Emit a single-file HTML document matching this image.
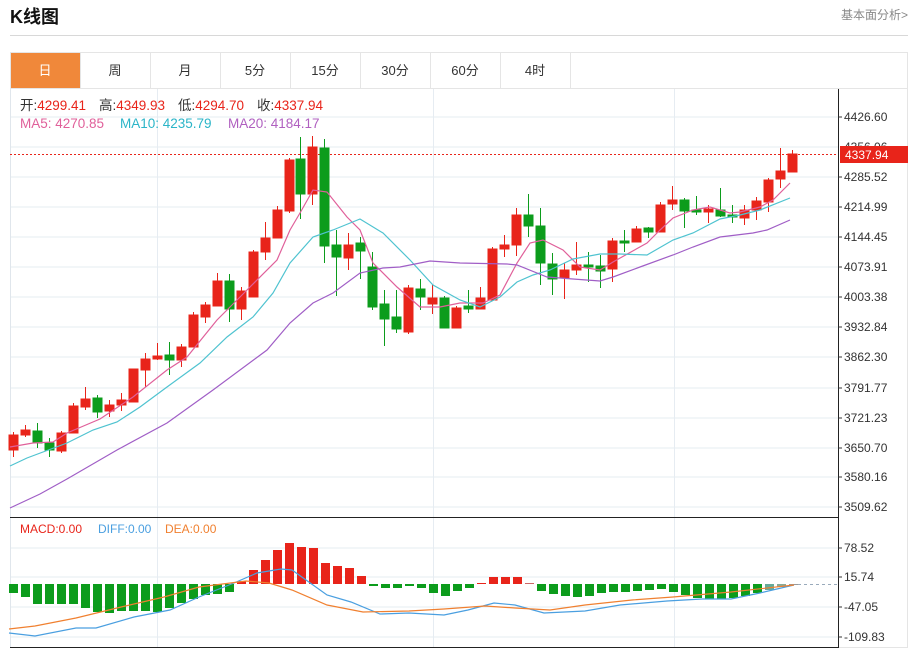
<!DOCTYPE html>
<html><head><meta charset="utf-8"><style>
body{margin:0;background:#fff;width:914px;height:650px;overflow:hidden;font-family:"Liberation Sans","Noto Sans CJK SC",sans-serif;}
</style></head><body>
<svg width="914" height="650" xmlns="http://www.w3.org/2000/svg" style="position:absolute;left:0;top:0;font-family:'Liberation Sans','Noto Sans CJK SC',sans-serif">
<text x="10" y="23" font-size="18" font-weight="bold" fill="#111">K线图</text>
<text x="908" y="19" font-size="12" fill="#888" text-anchor="end">基本面分析&gt;</text>
<line x1="10" y1="35.5" x2="908" y2="35.5" stroke="#d8d8d8"/>
<rect x="10.5" y="52.5" width="897" height="595" fill="none" stroke="#e5e5e5"/>
<line x1="10" y1="88.5" x2="908" y2="88.5" stroke="#e5e5e5"/>
<rect x="11" y="53" width="69" height="35" fill="#f0883a"/>
<g stroke="#e5e5e5"><line x1="150.5" y1="52" x2="150.5" y2="88"/><line x1="220.5" y1="52" x2="220.5" y2="88"/><line x1="290.5" y1="52" x2="290.5" y2="88"/><line x1="360.5" y1="52" x2="360.5" y2="88"/><line x1="430.5" y1="52" x2="430.5" y2="88"/><line x1="500.5" y1="52" x2="500.5" y2="88"/><line x1="570.5" y1="52" x2="570.5" y2="88"/><line x1="80.5" y1="52" x2="80.5" y2="88"/></g>
<g font-size="13" text-anchor="middle" fill="#333"><text x="45" y="75" fill="#fff">日</text><text x="115" y="75">周</text><text x="185" y="75">月</text><text x="255" y="75">5分</text><text x="325" y="75">15分</text><text x="395" y="75">30分</text><text x="465" y="75">60分</text><text x="535" y="75">4时</text></g>
<g stroke="#e6ecf2"><line x1="10" y1="117" x2="838" y2="117"/><line x1="10" y1="147" x2="838" y2="147"/><line x1="10" y1="177" x2="838" y2="177"/><line x1="10" y1="207" x2="838" y2="207"/><line x1="10" y1="237" x2="838" y2="237"/><line x1="10" y1="267" x2="838" y2="267"/><line x1="10" y1="297" x2="838" y2="297"/><line x1="10" y1="327" x2="838" y2="327"/><line x1="10" y1="357" x2="838" y2="357"/><line x1="10" y1="388" x2="838" y2="388"/><line x1="10" y1="418" x2="838" y2="418"/><line x1="10" y1="448" x2="838" y2="448"/><line x1="10" y1="477" x2="838" y2="477"/><line x1="10" y1="507" x2="838" y2="507"/>
<line x1="157.5" y1="89" x2="157.5" y2="647"/><line x1="433.5" y1="89" x2="433.5" y2="647"/><line x1="674.5" y1="89" x2="674.5" y2="647"/>
<line x1="10" y1="548" x2="838" y2="548"/><line x1="10" y1="577" x2="838" y2="577"/><line x1="10" y1="607" x2="838" y2="607"/><line x1="10" y1="637" x2="838" y2="637"/></g>
<line x1="10.5" y1="89" x2="10.5" y2="647" stroke="#e0e6ec"/>
<line x1="10" y1="517.5" x2="838" y2="517.5" stroke="#222"/>
<line x1="10" y1="647.5" x2="838" y2="647.5" stroke="#222"/>
<line x1="838.5" y1="89" x2="838.5" y2="648" stroke="#222"/>
<g font-size="13.5">
<text x="20" y="110" fill="#333">开:<tspan fill="#e8241a">4299.41</tspan></text>
<text x="99" y="110" fill="#333">高:<tspan fill="#e8241a">4349.93</tspan></text>
<text x="178" y="110" fill="#333">低:<tspan fill="#e8241a">4294.70</tspan></text>
<text x="257" y="110" fill="#333">收:<tspan fill="#e8241a">4337.94</tspan></text>
<text x="20" y="128" fill="#e0609a">MA5: 4270.85</text>
<text x="120" y="128" fill="#2bb5c8">MA10: 4235.79</text>
<text x="228" y="128" fill="#b060c0">MA20: 4184.17</text>
</g>
<g font-size="12" fill="#333"><text x="844" y="121">4426.60</text><text x="844" y="151">4356.06</text><text x="844" y="181">4285.52</text><text x="844" y="211">4214.99</text><text x="844" y="241">4144.45</text><text x="844" y="271">4073.91</text><text x="844" y="301">4003.38</text><text x="844" y="331">3932.84</text><text x="844" y="361">3862.30</text><text x="844" y="392">3791.77</text><text x="844" y="422">3721.23</text><text x="844" y="452">3650.70</text><text x="844" y="481">3580.16</text><text x="844" y="511">3509.62</text>
<text x="844" y="552">78.52</text><text x="844" y="581">15.74</text><text x="844" y="611">-47.05</text><text x="844" y="641">-109.83</text></g>
<g stroke="#333"><line x1="838" y1="117" x2="842" y2="117"/><line x1="838" y1="177" x2="842" y2="177"/><line x1="838" y1="207" x2="842" y2="207"/><line x1="838" y1="237" x2="842" y2="237"/><line x1="838" y1="267" x2="842" y2="267"/><line x1="838" y1="297" x2="842" y2="297"/><line x1="838" y1="327" x2="842" y2="327"/><line x1="838" y1="357" x2="842" y2="357"/><line x1="838" y1="388" x2="842" y2="388"/><line x1="838" y1="418" x2="842" y2="418"/><line x1="838" y1="448" x2="842" y2="448"/><line x1="838" y1="477" x2="842" y2="477"/><line x1="838" y1="507" x2="842" y2="507"/><line x1="838" y1="548" x2="842" y2="548"/><line x1="838" y1="577" x2="842" y2="577"/><line x1="838" y1="607" x2="842" y2="607"/><line x1="838" y1="637" x2="842" y2="637"/></g>
<line x1="10" y1="154.5" x2="838" y2="154.5" stroke="#e8241a" stroke-dasharray="2,2"/>
<rect x="840" y="146" width="68" height="17" fill="#e8241a"/>
<text x="845" y="159" font-size="12" fill="#fff">4337.94</text>
<g stroke="#e8241a" fill="#e8241a">
<line x1="13.5" y1="432" x2="13.5" y2="457"/><rect x="9" y="435" width="9" height="15"/>
<line x1="25.5" y1="425" x2="25.5" y2="437"/><rect x="21" y="430" width="9" height="5"/>
<line x1="61.5" y1="431" x2="61.5" y2="453"/><rect x="57" y="433" width="9" height="18"/>
<line x1="73.5" y1="403" x2="73.5" y2="433"/><rect x="69" y="406" width="9" height="27"/>
<line x1="85.5" y1="387" x2="85.5" y2="410"/><rect x="81" y="399" width="9" height="8"/>
<line x1="109.5" y1="400" x2="109.5" y2="417"/><rect x="105" y="405" width="9" height="6"/>
<line x1="121.5" y1="393" x2="121.5" y2="411"/><rect x="117" y="400" width="9" height="5"/>
<rect x="129" y="369" width="9" height="33"/>
<line x1="145.5" y1="353" x2="145.5" y2="387"/><rect x="141" y="359" width="9" height="11"/>
<line x1="157.5" y1="343" x2="157.5" y2="360"/><rect x="153" y="356" width="9" height="3"/>
<line x1="181.5" y1="344" x2="181.5" y2="367"/><rect x="177" y="347" width="9" height="13"/>
<line x1="193.5" y1="312" x2="193.5" y2="347"/><rect x="189" y="315" width="9" height="32"/>
<line x1="205.5" y1="302" x2="205.5" y2="323"/><rect x="201" y="305" width="9" height="12"/>
<line x1="217.5" y1="273" x2="217.5" y2="306"/><rect x="213" y="281" width="9" height="25"/>
<line x1="241.5" y1="287" x2="241.5" y2="320"/><rect x="237" y="291" width="9" height="18"/>
<line x1="253.5" y1="250" x2="253.5" y2="297"/><rect x="249" y="252" width="9" height="45"/>
<line x1="265.5" y1="222" x2="265.5" y2="260"/><rect x="261" y="238" width="9" height="14"/>
<line x1="277.5" y1="206" x2="277.5" y2="238"/><rect x="273" y="210" width="9" height="28"/>
<line x1="289.5" y1="158" x2="289.5" y2="213"/><rect x="285" y="160" width="9" height="51"/>
<line x1="312.5" y1="136" x2="312.5" y2="205"/><rect x="308" y="147" width="9" height="47"/>
<line x1="348.5" y1="233" x2="348.5" y2="270"/><rect x="344" y="245" width="9" height="13"/>
<line x1="408.5" y1="285" x2="408.5" y2="334"/><rect x="404" y="288" width="9" height="44"/>
<line x1="432.5" y1="285" x2="432.5" y2="314"/><rect x="428" y="298" width="9" height="6"/>
<line x1="456.5" y1="306" x2="456.5" y2="328"/><rect x="452" y="308" width="9" height="20"/>
<line x1="480.5" y1="287" x2="480.5" y2="309"/><rect x="476" y="298" width="9" height="11"/>
<line x1="492.5" y1="247" x2="492.5" y2="300"/><rect x="488" y="249" width="9" height="51"/>
<line x1="504.5" y1="235" x2="504.5" y2="257"/><rect x="500" y="245" width="9" height="4"/>
<line x1="516.5" y1="208" x2="516.5" y2="256"/><rect x="512" y="215" width="9" height="30"/>
<line x1="564.5" y1="263" x2="564.5" y2="299"/><rect x="560" y="270" width="9" height="8"/>
<line x1="576.5" y1="242" x2="576.5" y2="275"/><rect x="572" y="265" width="9" height="5"/>
<line x1="612.5" y1="238" x2="612.5" y2="282"/><rect x="608" y="241" width="9" height="28"/>
<line x1="636.5" y1="226" x2="636.5" y2="242"/><rect x="632" y="229" width="9" height="13"/>
<line x1="660.5" y1="202" x2="660.5" y2="232"/><rect x="656" y="205" width="9" height="27"/>
<line x1="672.5" y1="186" x2="672.5" y2="210"/><rect x="668" y="200" width="9" height="4"/>
<line x1="708.5" y1="205" x2="708.5" y2="223"/><rect x="704" y="209" width="9" height="3"/>
<line x1="744.5" y1="205" x2="744.5" y2="225"/><rect x="740" y="210" width="9" height="8"/>
<line x1="756.5" y1="197" x2="756.5" y2="220"/><rect x="752" y="201" width="9" height="9"/>
<line x1="768.5" y1="178" x2="768.5" y2="212"/><rect x="764" y="180" width="9" height="22"/>
<line x1="780.5" y1="148" x2="780.5" y2="188"/><rect x="776" y="171" width="9" height="8"/>
<line x1="792.5" y1="150" x2="792.5" y2="172"/><rect x="788" y="154" width="9" height="18"/>
</g>
<g stroke="#0c9c1c" fill="#0c9c1c">
<line x1="37.5" y1="423" x2="37.5" y2="448"/><rect x="33" y="431" width="9" height="12"/>
<line x1="49.5" y1="438" x2="49.5" y2="457"/><rect x="45" y="443" width="9" height="7"/>
<line x1="97.5" y1="395" x2="97.5" y2="418"/><rect x="93" y="398" width="9" height="14"/>
<line x1="169.5" y1="342" x2="169.5" y2="375"/><rect x="165" y="355" width="9" height="5"/>
<line x1="229.5" y1="274" x2="229.5" y2="322"/><rect x="225" y="281" width="9" height="28"/>
<line x1="300.5" y1="137" x2="300.5" y2="219"/><rect x="296" y="159" width="9" height="35"/>
<line x1="324.5" y1="139" x2="324.5" y2="263"/><rect x="320" y="148" width="9" height="98"/>
<line x1="336.5" y1="230" x2="336.5" y2="296"/><rect x="332" y="245" width="9" height="12"/>
<line x1="360.5" y1="237" x2="360.5" y2="279"/><rect x="356" y="243" width="9" height="8"/>
<line x1="372.5" y1="252" x2="372.5" y2="310"/><rect x="368" y="267" width="9" height="40"/>
<line x1="384.5" y1="290" x2="384.5" y2="346"/><rect x="380" y="304" width="9" height="15"/>
<line x1="396.5" y1="290" x2="396.5" y2="333"/><rect x="392" y="317" width="9" height="12"/>
<line x1="420.5" y1="279" x2="420.5" y2="310"/><rect x="416" y="289" width="9" height="8"/>
<line x1="444.5" y1="296" x2="444.5" y2="328"/><rect x="440" y="298" width="9" height="30"/>
<line x1="468.5" y1="290" x2="468.5" y2="313"/><rect x="464" y="306" width="9" height="3"/>
<line x1="528.5" y1="194" x2="528.5" y2="237"/><rect x="524" y="215" width="9" height="11"/>
<line x1="540.5" y1="208" x2="540.5" y2="285"/><rect x="536" y="226" width="9" height="37"/>
<line x1="552.5" y1="253" x2="552.5" y2="295"/><rect x="548" y="264" width="9" height="15"/>
<line x1="588.5" y1="252" x2="588.5" y2="282"/><rect x="584" y="265" width="9" height="2"/>
<line x1="600.5" y1="255" x2="600.5" y2="288"/><rect x="596" y="266" width="9" height="5"/>
<line x1="624.5" y1="230" x2="624.5" y2="252"/><rect x="620" y="241" width="9" height="2"/>
<line x1="648.5" y1="227" x2="648.5" y2="238"/><rect x="644" y="228" width="9" height="4"/>
<line x1="684.5" y1="198" x2="684.5" y2="228"/><rect x="680" y="200" width="9" height="11"/>
<line x1="696.5" y1="196" x2="696.5" y2="215"/><rect x="692" y="210" width="9" height="2"/>
<line x1="720.5" y1="188" x2="720.5" y2="217"/><rect x="716" y="210" width="9" height="6"/>
<line x1="732.5" y1="205" x2="732.5" y2="223"/><rect x="728" y="215" width="9" height="2"/>
</g>
<g fill="none" stroke-width="1.2">
<polyline stroke="#e0609a" points="10,447 33,443 53,442 67,433 100,419 133,397 167,370 187,357 217,320 247,290 277,260 290,230 300,213 313,190 327,192 347,217 360,230 373,263 397,287 420,307 440,307 460,303 483,303 500,295 517,263 530,243 543,240 563,250 580,267 600,270 613,262 647,243 660,230 673,218 693,210 710,207 730,213 740,212 760,207 773,200 790,183"/>
<polyline stroke="#4fc3d0" points="10,466 27,458 67,443 93,430 117,422 140,407 167,387 200,363 227,337 253,317 273,293 290,263 313,237 333,230 360,219 383,233 410,260 433,285 460,300 480,307 500,297 517,282 533,275 550,270 573,259 600,254 620,254 647,255 673,240 693,233 720,219 740,215 760,210 790,198"/>
<polyline stroke="#a05ec6" points="10,508 40,494 67,479 117,450 167,423 213,390 267,350 290,323 313,303 333,293 360,273 383,268 400,267 430,261 460,263 507,264 517,265 547,277 573,279 600,281 613,277 640,267 673,255 693,247 720,237 753,233 767,230 790,220"/>
</g>
<g font-size="12"><text x="20" y="533" fill="#e8241a">MACD:0.00</text><text x="98" y="533" fill="#4a9fe0">DIFF:0.00</text><text x="165" y="533" fill="#f08030">DEA:0.00</text></g>
<line x1="792" y1="584.5" x2="838" y2="584.5" stroke="#9ab" stroke-dasharray="3,3"/>
<g fill="#0c9c1c">
<rect x="9" y="584" width="9" height="9"/><rect x="21" y="584" width="9" height="13"/><rect x="33" y="584" width="9" height="20"/><rect x="45" y="584" width="9" height="20"/><rect x="57" y="584" width="9" height="20"/><rect x="69" y="584" width="9" height="20"/><rect x="81" y="584" width="9" height="24"/><rect x="93" y="584" width="9" height="28"/><rect x="105" y="584" width="9" height="29"/><rect x="117" y="584" width="9" height="27"/><rect x="129" y="584" width="9" height="27"/><rect x="141" y="584" width="9" height="27"/><rect x="153" y="584" width="9" height="28"/><rect x="165" y="584" width="9" height="24"/><rect x="177" y="584" width="9" height="19"/><rect x="189" y="584" width="9" height="15"/><rect x="201" y="584" width="9" height="11"/><rect x="213" y="584" width="9" height="10"/><rect x="225" y="584" width="9" height="8"/>
<rect x="369" y="584" width="9" height="2"/><rect x="381" y="584" width="9" height="4"/><rect x="393" y="584" width="9" height="4"/><rect x="405" y="584" width="9" height="2"/><rect x="417" y="584" width="9" height="4"/><rect x="429" y="584" width="9" height="9"/><rect x="441" y="584" width="9" height="12"/><rect x="453" y="584" width="9" height="7"/><rect x="465" y="584" width="9" height="4"/>
<rect x="537" y="584" width="9" height="7"/><rect x="549" y="584" width="9" height="10"/><rect x="561" y="584" width="9" height="12"/><rect x="573" y="584" width="9" height="13"/><rect x="585" y="584" width="9" height="12"/><rect x="597" y="584" width="9" height="9"/><rect x="609" y="584" width="9" height="8"/><rect x="621" y="584" width="9" height="8"/><rect x="633" y="584" width="9" height="7"/><rect x="645" y="584" width="9" height="6"/><rect x="657" y="584" width="9" height="5"/><rect x="669" y="584" width="9" height="8"/><rect x="681" y="584" width="9" height="11"/><rect x="693" y="584" width="9" height="14"/><rect x="705" y="584" width="9" height="15"/><rect x="717" y="584" width="9" height="15"/><rect x="729" y="584" width="9" height="14"/><rect x="741" y="584" width="9" height="12"/><rect x="753" y="584" width="9" height="9"/><rect x="765" y="584" width="9" height="6" fill="#6a9"/><rect x="777" y="584" width="9" height="3" fill="#8a9"/><rect x="789" y="584" width="9" height="1" fill="#999"/>
</g>
<g fill="#e8241a">
<rect x="237" y="581" width="9" height="3"/><rect x="249" y="570" width="9" height="14"/><rect x="261" y="560" width="9" height="24"/><rect x="273" y="550" width="9" height="34"/><rect x="285" y="543" width="9" height="41"/><rect x="297" y="547" width="9" height="37"/><rect x="309" y="548" width="9" height="36"/><rect x="321" y="563" width="9" height="21"/><rect x="333" y="566" width="9" height="18"/><rect x="345" y="568" width="9" height="16"/><rect x="357" y="576" width="9" height="8"/>
<rect x="477" y="583" width="9" height="1"/><rect x="489" y="577" width="9" height="7"/><rect x="501" y="577" width="9" height="7"/><rect x="513" y="577" width="9" height="7"/><rect x="525" y="583" width="9" height="1" fill="#c66"/>
</g>
<g fill="none" stroke-width="1.2">
<polyline stroke="#4a9fe0" points="9,633 35,636 76,628 96,628 134,617 170,610 199,597 234,583 257,573 281,569 292,570 327,595 351,602 380,614 409,613 444,615 468,610 494,603 515,605 544,613 585,611 620,605 667,601 702,599 731,599 760,593 794,585"/>
<polyline stroke="#f08030" points="9,629 35,626 76,618 117,608 164,597 199,587 246,581 269,583 292,590 327,605 363,612 409,611 444,609 485,606 515,608 550,610 585,605 632,600 673,597 731,592 794,585"/>
</g>
</svg>
</body></html>
